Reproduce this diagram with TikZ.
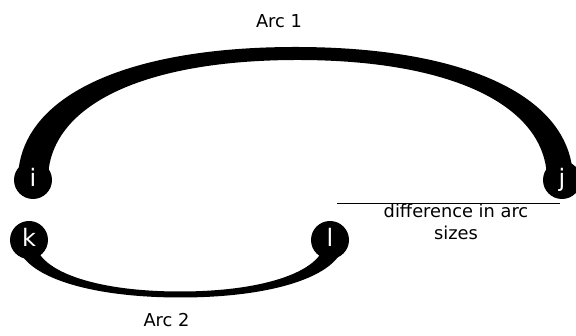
\documentclass[tikz,border=0pt]{standalone}
\usepackage{fontspec}
\setmainfont{DejaVu Sans}
\usetikzlibrary{calc,backgrounds}
\begin{document}
\begin{tikzpicture}[x=1pt,y=1pt,
  vtx/.style={circle, fill=black, minimum size=38pt, inner sep=0pt, text=white,
    font=\fontsize{24}{24}\selectfont, text height=14pt, text depth=0pt},
  lbl/.style={font=\fontsize{17.8}{22}\selectfont, inner sep=0pt},
  band/.style={fill=black}]
\useasboundingbox (0,0) rectangle (576,336);
\node[vtx] (i) at (33,156) {i};
\node[vtx] (j) at (562,156) {j};
\node[vtx] (k) at (29,96) {k};
\node[vtx] (l) at (330,96) {l};
\begin{scope}[on background layer]
\fill[band] ($(i)+(-15,0)$) .. controls +(0,82.5) and +(-172,0) .. (295.5,289)
  .. controls +(172,0) and +(0,82.5) .. ($(j)+(11,0)$)
  -- ($(j)+(-15,0)$) .. controls +(0,74.4) and +(154.7,0) .. (297.5,276)
  .. controls +(-154.7,0) and +(0,74.4) .. ($(i)+(15,0)$) -- cycle;
\fill[band] ($(k)+(-12,0)$) .. controls +(0,-34) and +(-97,0) .. (180.5,38.5)
  .. controls +(97,0) and +(0,-34) .. ($(l)+(14,0)$)
  -- ($(l)+(-5,0)$) .. controls +(0,-30.5) and +(86,0) .. (180,44.5)
  .. controls +(-86,0) and +(0,-30.5) .. ($(k)+(6,0)$) -- cycle;
\end{scope}
\node[lbl, anchor=base] (arc1) at (279,308) {Arc 1};
\node[lbl, anchor=base] (arc2) at (166.5,9) {Arc 2};
\node[lbl, anchor=base, align=center] (diff) at (456,96) {difference in arc\\sizes};
\coordinate (d1) at (337,133);
\coordinate (d2) at (560,133);
\draw[line width=0.8pt] (d1) -- (d2);
\end{tikzpicture}
\end{document}
